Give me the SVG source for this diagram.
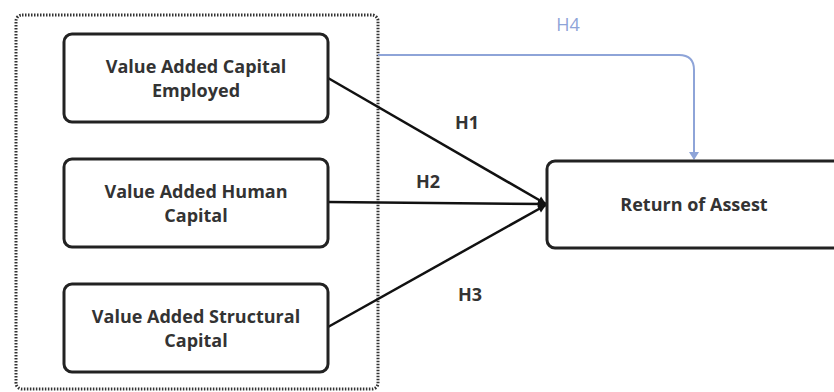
<svg xmlns="http://www.w3.org/2000/svg" width="834" height="392" viewBox="0 0 834 392">
<style>
.box{fill:#fff;stroke:#222;stroke-width:3}
.t{font-family:"Open Sans","Noto Sans",sans-serif;font-weight:bold;font-size:18px;fill:#333;text-anchor:middle}
.c{fill:none;stroke:#111;stroke-width:2.5}
.h4{fill:none;stroke:#8ea4d8;stroke-width:2}
</style>
<defs>
<marker id="ab" markerWidth="10" markerHeight="10" refX="9" refY="5" orient="auto" markerUnits="userSpaceOnUse"><path d="M1,1 L9,5 L1,9 Z" fill="#111"/></marker>
<marker id="ag" markerWidth="12" markerHeight="10" refX="6" refY="9" orient="0" markerUnits="userSpaceOnUse"><path d="M1,2 L11,2 L6,10 Z" fill="#8ea4d8"/></marker>
</defs>
<rect width="834" height="392" fill="#fff"/>
<rect id="group" x="16" y="15" width="362" height="374" rx="6" fill="none" stroke="#333" stroke-width="3" stroke-dasharray="1.5 1.5"/>
<g id="connectors">
<line class="c" x1="328" y1="78" x2="546" y2="204" marker-end="url(#ab)"/>
<line class="c" x1="328" y1="202" x2="546" y2="204" marker-end="url(#ab)"/>
<line class="c" x1="328" y1="327" x2="546" y2="205" marker-end="url(#ab)"/>
<path class="h4" d="M378,55 H679 Q694,55 694,70 V159" marker-end="url(#ag)"/>
<text class="t" x="467" y="129">H1</text>
<text class="t" x="428" y="188">H2</text>
<text class="t" x="470" y="301">H3</text>
<text class="t" x="568" y="31" style="fill:#8ea4d8;font-weight:normal">H4</text>
</g>
<g id="vace">
<rect class="box" x="64" y="34" width="264" height="88" rx="8"/>
<text class="t" x="196" y="73">Value Added Capital</text>
<text class="t" x="196" y="97">Employed</text>
</g>
<g id="vahc">
<rect class="box" x="64" y="159" width="264" height="88" rx="8"/>
<text class="t" x="196" y="198">Value Added Human</text>
<text class="t" x="196" y="222">Capital</text>
</g>
<g id="vasc">
<rect class="box" x="64" y="284" width="264" height="88" rx="8"/>
<text class="t" x="196" y="323">Value Added Structural</text>
<text class="t" x="196" y="347">Capital</text>
</g>
<g id="roa">
<rect class="box" x="547" y="161" width="300" height="87" rx="8"/>
<text class="t" x="694" y="211">Return of Assest</text>
</g>
</svg>
